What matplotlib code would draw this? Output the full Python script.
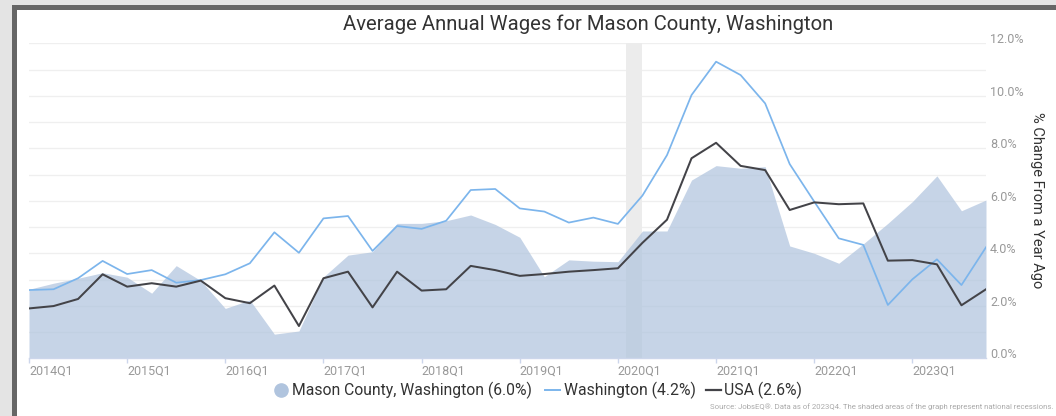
import matplotlib
matplotlib.use("Agg")
import matplotlib.pyplot as plt
from matplotlib.patches import Rectangle
from matplotlib.lines import Line2D
from matplotlib.transforms import ScaledTranslation

plt.rcParams['font.family'] = ['Roboto', 'DejaVu Sans']

# ---------------- data ----------------
quarters = [f"{y}Q{q}" for y in range(2014, 2024) for q in range(1, 5)]

mason = [2.63, 2.86, 3.05, 3.26, 3.09, 2.48, 3.53, 2.96, 1.90, 2.22,
         0.92, 1.04, 3.10, 3.93, 4.06, 5.14, 5.14, 5.24, 5.46, 5.10,
         4.61, 3.11, 3.75, 3.70, 3.68, 4.85, 4.85, 6.79, 7.34, 7.24,
         7.30, 4.28, 4.00, 3.62, 4.36, 5.14, 5.97, 6.95, 5.62, 6.03]

washington = [2.60, 2.63, 3.05, 3.71, 3.21, 3.36, 2.88, 2.98, 3.20, 3.62,
              4.80, 4.02, 5.33, 5.42, 4.09, 5.04, 4.93, 5.24, 6.41, 6.45,
              5.71, 5.59, 5.17, 5.36, 5.12, 6.20, 7.74, 10.03, 11.30, 10.79,
              9.71, 7.40, 5.97, 4.57, 4.32, 2.03, 3.01, 3.77, 2.79, 4.23]

usa = [1.90, 1.99, 2.26, 3.20, 2.73, 2.86, 2.73, 2.96, 2.29, 2.10,
       2.77, 1.23, 3.05, 3.30, 1.94, 3.30, 2.58, 2.63, 3.52, 3.36,
       3.14, 3.21, 3.30, 3.36, 3.43, 4.40, 5.28, 7.62, 8.21, 7.33,
       7.17, 5.65, 5.94, 5.87, 5.90, 3.72, 3.74, 3.58, 2.02, 2.63]

recession = (24.34, 25.0)   # Feb-Apr 2020, in quarter index units
y_ticks = [0, 2, 4, 6, 8, 10, 12]

title = "Average Annual Wages for Mason County, Washington"
y_title = "% Change From a Year Ago"
source = ("Source: JobsEQ\u00ae. Data as of 2023Q4. The shaded areas of the graph "
          "represent national recessions.")

# ---------------- figure ----------------
W, H = 1056, 416
fig = plt.figure(figsize=(W / 100, H / 100), dpi=100)
fig.patch.set_facecolor('#e4e4e4')


def fx(x):
    return x / W


def fy(y):
    return 1 - y / H


fig.add_artist(Rectangle((fx(12), 0), 1, fy(5), transform=fig.transFigure,
                         facecolor='#666666', edgecolor='none', zorder=-3))
fig.add_artist(Rectangle((fx(16.5), 0), 1, fy(9.5), transform=fig.transFigure,
                         facecolor='white', edgecolor='none', zorder=-2))

ax = fig.add_axes([fx(29), fy(358.3), (986 - 29) / W, (358.3 - 43.3) / H])
ax.set_facecolor('none')
x = list(range(len(quarters)))
ax.set_xlim(0, len(quarters) - 1)
ax.set_ylim(0, 12)

for v in range(1, 13):
    ax.axhline(v, color='#efefef', lw=0.9, zorder=0)

ax.axvspan(recession[0], recession[1], color='#ececec', lw=0, zorder=0.5)

ax.fill_between(x, 0, mason, color='#b0c4de', alpha=0.72, lw=0, zorder=1)
ax.plot(x, washington, color='#7cb5ec', lw=1.25, zorder=2)
ax.plot(x, usa, color='#434348', lw=1.45, zorder=3)

for s in ['top', 'left', 'right']:
    ax.spines[s].set_visible(False)
ax.spines['bottom'].set_color('#ccd6eb')
ax.spines['bottom'].set_linewidth(1)

# x axis
xt = list(range(0, len(quarters), 4))
ax.set_xticks(xt)
ax.set_xticklabels([quarters[i] for i in xt])
ax.tick_params(axis='x', colors='#ccd6eb', length=3.8, width=1, pad=0.8,
               labelcolor='#999999', labelsize=9)
for lbl in ax.get_xticklabels():
    lbl.set_ha('left')

# y axis on right
ax.yaxis.tick_right()
ax.set_yticks(y_ticks)
ax.set_yticklabels([f"{v:.1f}%" for v in y_ticks])
ax.tick_params(axis='y', length=0, pad=3, labelcolor='#999999', labelsize=9)
off = ScaledTranslation(0, 5 / 100, fig.dpi_scale_trans)
for lbl in ax.get_yticklabels():
    lbl.set_transform(lbl.get_transform() + off)

# texts
fig.text(fx(588), fy(30), title, ha='center', va='baseline',
         fontsize=14.6, color='#333333')
fig.text(fx(1037), fy(200), y_title, rotation=270, ha='center', va='center',
         fontsize=10.5, color='#333333')

# legend
ly = fy(390)
fs_leg = 11.3
fig.add_artist(Line2D([fx(281)], [ly], marker='o', markersize=9.5,
                      color='#b0c4de', transform=fig.transFigure))
fig.text(fx(292), ly, f"Mason County, Washington ({mason[-1]:.1f}%)",
         va='center', fontsize=fs_leg, color='#333333')
fig.add_artist(Line2D([fx(545), fx(560)], [ly, ly], color='#7cb5ec', lw=1.4,
                      transform=fig.transFigure))
fig.text(fx(564), ly, f"Washington ({washington[-1]:.1f}%)",
         va='center', fontsize=fs_leg, color='#333333')
fig.add_artist(Line2D([fx(706), fx(721)], [ly, ly], color='#434348', lw=1.6,
                      transform=fig.transFigure))
fig.text(fx(724), ly, f"USA ({usa[-1]:.1f}%)",
         va='center', fontsize=fs_leg, color='#333333')

fig.text(fx(1053), fy(407), source, ha='right', va='center',
         fontsize=5.6, color='#aaaaaa')

fig.savefig('out.png', dpi=100)
